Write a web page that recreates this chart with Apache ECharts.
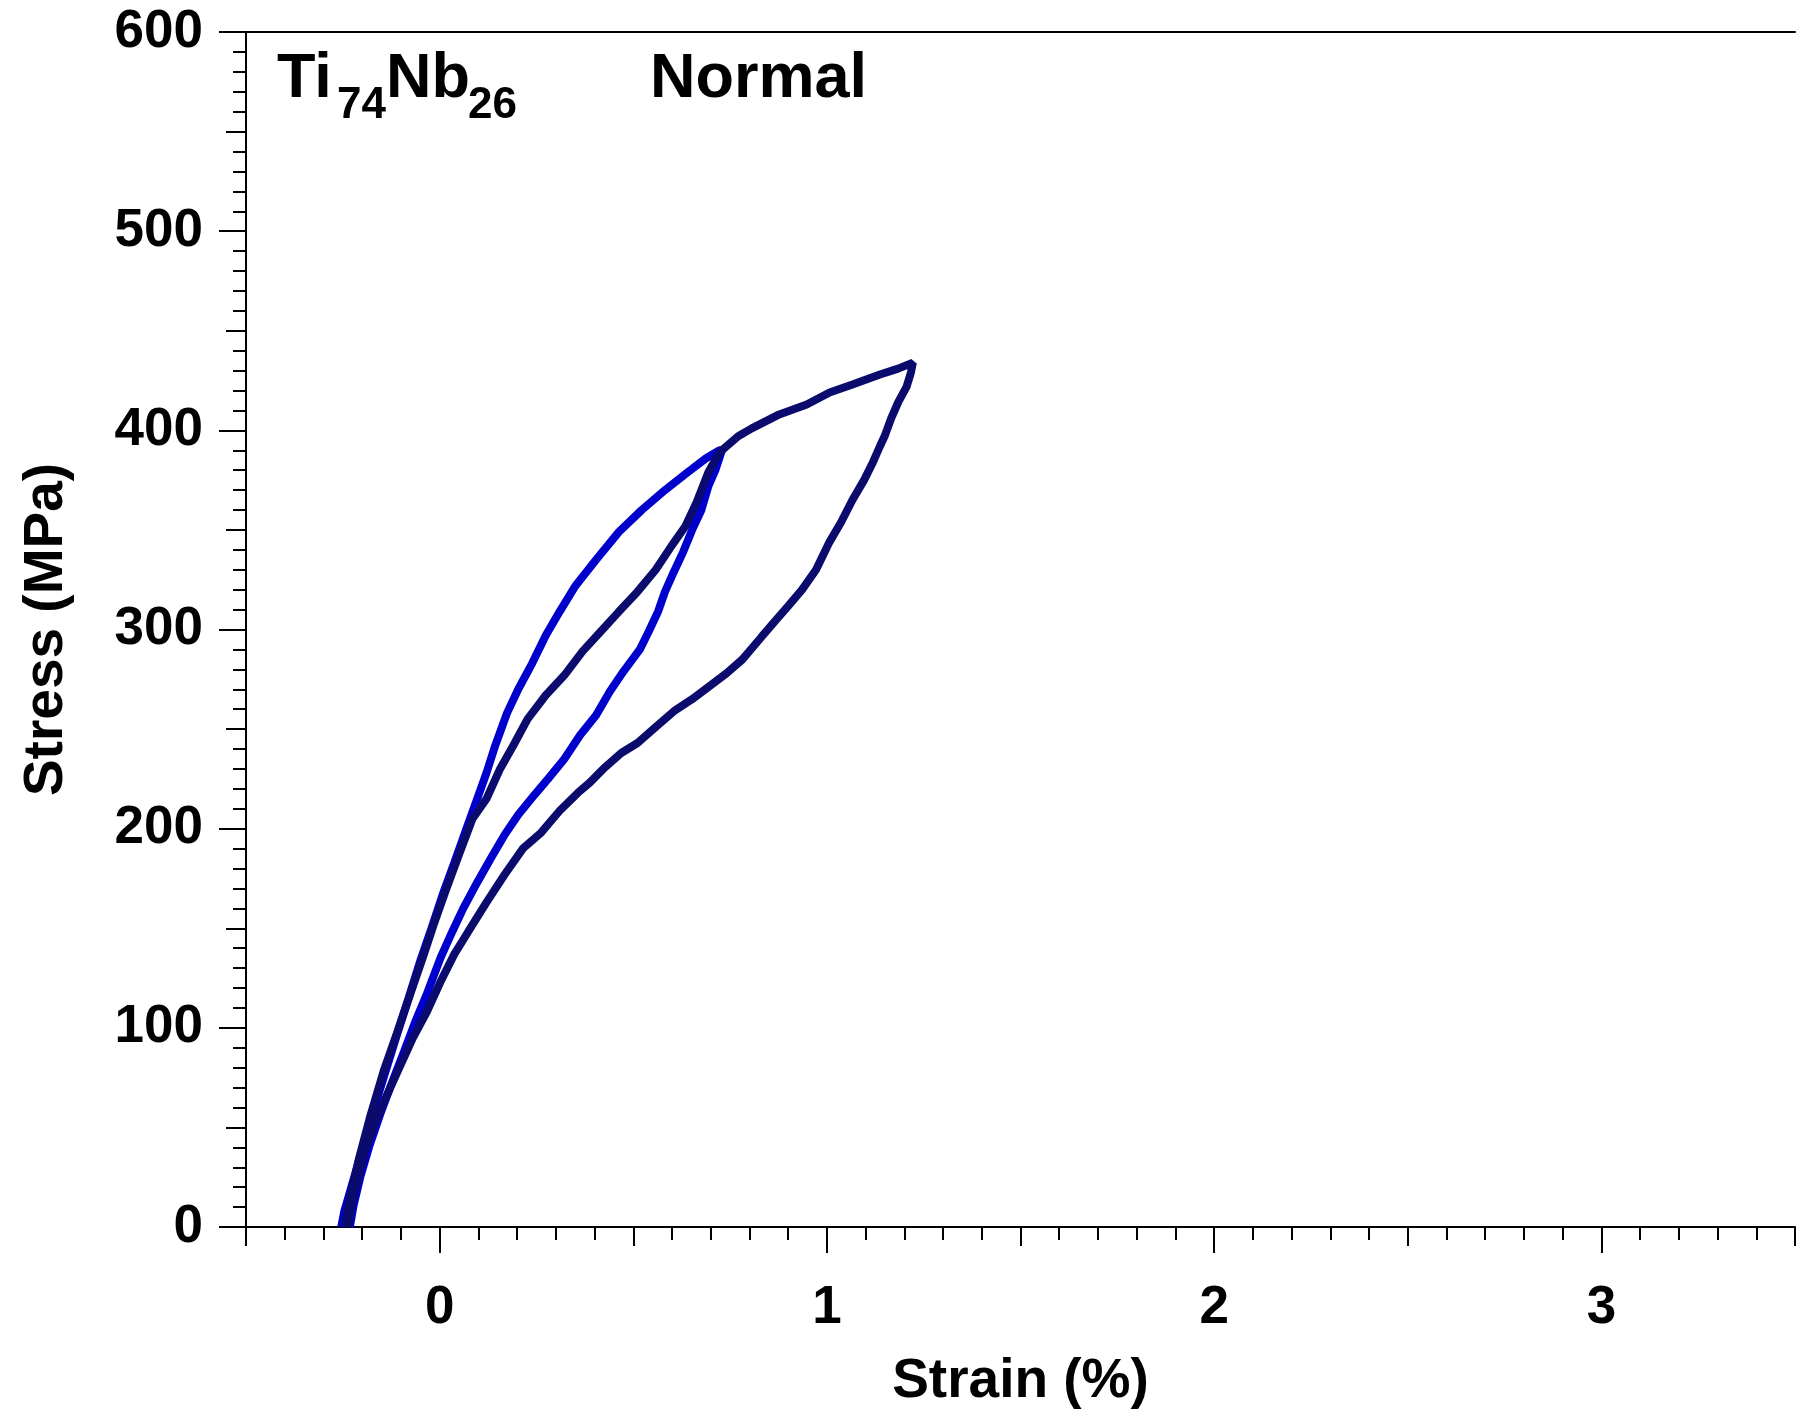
<!DOCTYPE html>
<html>
<head>
<meta charset="utf-8">
<script src="https://cdn.jsdelivr.net/npm/echarts@6/dist/echarts.min.js"></script>
<style>
  html, body { margin: 0; padding: 0; background: #fff; }
  #main { width: 1798px; height: 1414px; }
</style>
</head>
<body>
<div id="main"></div>
<script>
// data: strain (%) / stress (MPa)
var blueStrain = [-0.254, -0.246, -0.216, -0.187, -0.151, -0.116, -0.080, -0.051, -0.021, 0.008, 0.038, 0.073, 0.097, 0.121, 0.144, 0.174, 0.203, 0.239, 0.274, 0.310, 0.351, 0.404, 0.463, 0.522, 0.582, 0.641, 0.688, 0.723,
  0.729, 0.712, 0.694, 0.676, 0.652, 0.629, 0.605, 0.582, 0.564, 0.540, 0.517, 0.475, 0.440, 0.404, 0.363, 0.322, 0.280, 0.245, 0.203, 0.168, 0.132, 0.097, 0.061, 0.032, 0.002, -0.033, -0.063, -0.092, -0.122, -0.151, -0.181, -0.205, -0.222, -0.232];
var blueStress = [0, 8, 28, 48, 71, 93, 115, 133, 150, 167, 183, 202, 215, 228, 242, 258, 270, 283, 297, 309, 322, 335, 349, 360, 370, 379, 386, 390,
  390, 380, 372, 360, 350, 339, 329, 319, 309, 299, 290, 279, 269, 257, 247, 235, 225, 217, 207, 197, 185, 173, 160, 148, 135, 117, 103, 88, 73, 58, 41, 25, 11, 0];

var darkStrain = [-0.245, -0.233, -0.210, -0.180, -0.145, -0.109, -0.074, -0.044, -0.015, 0.014, 0.050, 0.085, 0.121, 0.156, 0.191, 0.227, 0.274, 0.322, 0.369, 0.416, 0.463, 0.511, 0.558, 0.599, 0.635, 0.664, 0.694, 0.723, 0.741, 0.771, 0.806, 0.877, 0.948, 1.007, 1.066, 1.137, 1.184, 1.222,
  1.217, 1.206, 1.184, 1.166, 1.149, 1.137, 1.119, 1.096, 1.066, 1.037, 1.007, 0.972, 0.936, 0.901, 0.865, 0.830, 0.782, 0.741, 0.700, 0.652, 0.605, 0.558, 0.511, 0.469, 0.428, 0.387, 0.357, 0.310, 0.262, 0.215, 0.168, 0.121, 0.073, 0.038, 0.002, -0.033, -0.069, -0.104, -0.139, -0.169, -0.193, -0.210, -0.228, -0.236];
var darkStress = [0, 13, 33, 55, 78, 98, 118, 135, 152, 168, 187, 205, 215, 230, 242, 255, 267, 277, 289, 299, 309, 319, 330, 342, 352, 364, 379, 389, 392, 397, 401, 408, 413, 419, 423, 428, 431, 434,
  429, 422, 414, 406, 397, 392, 384, 375, 365, 354, 344, 330, 320, 312, 304, 296, 285, 278, 272, 265, 259, 251, 243, 238, 231, 223, 218, 209, 198, 190, 177, 163, 148, 137, 123, 108, 95, 80, 65, 51, 38, 25, 11, 0];

var xTicks = [0, 1, 2, 3];
var yTicks = [0, 100, 200, 300, 400, 500, 600];

var FONT = '"Liberation Sans", Arial, sans-serif';

function pairs(xs, ys) {
  var out = [];
  for (var i = 0; i < xs.length; i++) out.push([xs[i], ys[i]]);
  return out;
}

var chart = echarts.init(document.getElementById('main'), null, { width: 1798, height: 1414 });

var line = { color: '#000', width: 2 };
var labelFont = { fontSize: 53, fontWeight: 'bold', color: '#000', fontFamily: FONT };
var nameFont = { fontSize: 55, fontWeight: 'bold', color: '#000', fontFamily: FONT };

var option = {
  animation: false,
  backgroundColor: '#fff',
  grid: { left: 246, right: 0, top: 32, bottom: 185 },
  xAxis: [
    {
      type: 'value', position: 'bottom', min: -0.5, max: 3.5, interval: 0.5,
      axisLine: { onZero: false, lineStyle: line },
      axisTick: { length: 19, lineStyle: line },
      minorTick: { show: true, splitNumber: 5, length: 13, lineStyle: line },
      axisLabel: Object.assign({ margin: 55, formatter: function (v) { return xTicks.indexOf(v) >= 0 ? String(v) : ''; } }, labelFont),
      splitLine: { show: false },
      name: 'Strain (%)', nameLocation: 'middle', nameGap: 127, nameTextStyle: nameFont
    },
    {
      type: 'value', position: 'bottom', min: -0.5, max: 3.5,
      axisLine: { show: false, onZero: false },
      axisTick: { customValues: xTicks, length: 26, lineStyle: line },
      axisLabel: { show: false },
      splitLine: { show: false }
    },
    {
      type: 'value', position: 'top', min: -0.5, max: 3.5,
      axisLine: { onZero: false, lineStyle: line },
      axisTick: { show: false },
      axisLabel: { show: false },
      splitLine: { show: false }
    }
  ],
  yAxis: [
    {
      type: 'value', position: 'left', min: 0, max: 600, interval: 50,
      axisLine: { onZero: false, lineStyle: line },
      axisTick: { length: 20, lineStyle: line },
      minorTick: { show: true, splitNumber: 5, length: 13, lineStyle: line },
      axisLabel: Object.assign({ margin: 43, formatter: function (v) { return yTicks.indexOf(v) >= 0 ? String(v) : ''; } }, labelFont),
      splitLine: { show: false },
      name: 'Stress (MPa)', nameLocation: 'middle', nameGap: 172, nameTextStyle: nameFont
    },
    {
      type: 'value', position: 'left', min: 0, max: 600, interval: 100,
      axisLine: { show: false, onZero: false },
      axisTick: { length: 27, lineStyle: line },
      axisLabel: { show: false },
      splitLine: { show: false }
    }
  ],
  series: [
    {
      name: 'blue', type: 'line', data: pairs(blueStrain, blueStress),
      showSymbol: false, symbol: 'none', z: 2,
      itemStyle: { color: '#0000cc' },
      lineStyle: { color: '#0000cc', width: 8 },
      emphasis: { disabled: true }
    },
    {
      name: 'dark', type: 'line', data: pairs(darkStrain, darkStress),
      showSymbol: false, symbol: 'none', z: 3,
      itemStyle: { color: '#0b0b6e' },
      lineStyle: { color: '#0b0b6e', width: 8 },
      emphasis: { disabled: true }
    }
  ],
  graphic: [
    { type: 'text', x: 277, y: 80, style: { text: 'Ti', fontSize: 63, fontWeight: 'bold', fontFamily: FONT, fill: '#000', verticalAlign: 'middle' } },
    { type: 'text', x: 337, y: 106, style: { text: '74', fontSize: 44, fontWeight: 'bold', fontFamily: FONT, fill: '#000', verticalAlign: 'middle' } },
    { type: 'text', x: 386, y: 80, style: { text: 'Nb', fontSize: 63, fontWeight: 'bold', fontFamily: FONT, fill: '#000', verticalAlign: 'middle' } },
    { type: 'text', x: 468, y: 106, style: { text: '26', fontSize: 44, fontWeight: 'bold', fontFamily: FONT, fill: '#000', verticalAlign: 'middle' } },
    { type: 'text', x: 650, y: 80, style: { text: 'Normal', fontSize: 63, fontWeight: 'bold', fontFamily: FONT, fill: '#000', verticalAlign: 'middle' } }
  ]
};

chart.setOption(option);
</script>
</body>
</html>
